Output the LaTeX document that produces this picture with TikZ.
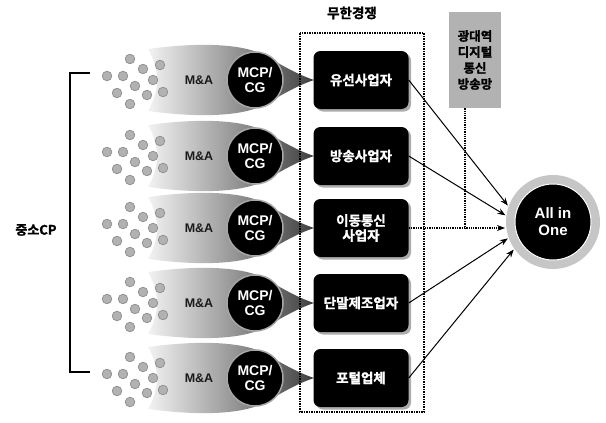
\documentclass[tikz,border=0pt]{standalone}
\usepackage{fontspec}
\setmainfont{Liberation Sans}
\newfontfamily\kr{Noto Sans CJK KR}[BoldFont={Noto Sans CJK KR Bold},BoldFeatures={FakeBold=1.5}]
\usetikzlibrary{arrows.meta,shadows}
\tikzset{
  biz/.style={rectangle, rounded corners=7pt, fill=black, text=white, minimum width=95pt, minimum height=58pt,
    font=\kr\bfseries\fontsize{13.5}{15}\selectfont, align=center, inner sep=1pt,
    drop shadow={shadow xshift=2.5pt, shadow yshift=-2.5pt, fill=gray!65, opacity=1}},
  mcp/.style={circle, fill=black, draw=gray!70, line width=1.5pt, text=white, minimum size=56pt, inner sep=0pt, align=center,
    font=\bfseries\fontsize{14}{15}\selectfont},
  matext/.style={text=black!90, font=\bfseries\fontsize{12.5}{13}\selectfont},
  dotc/.style={fill=gray!60, draw=gray!90, line width=0.7pt},
  conn/.style={line width=1pt, -{Stealth[length=8pt,width=6pt]}},
  lbl/.style={font=\kr\bfseries\fontsize{13.5}{15}\selectfont, text=black},
}
\begin{document}
\begin{tikzpicture}[x=1pt,y=-1pt]
\useasboundingbox (0,0) rectangle (606,423);
% funnels, dots, M&A, MCP circles, boxes
\foreach \y [count=\i] in {80,156,228,303,378}{
  \shade[left color=gray!10, right color=black!75]
    (148,\y-31) .. controls (200,\y-38) and (240,\y-36) .. (262,\y-26)
    .. controls (280,\y-16) and (296,\y-6) .. (314,\y)
    .. controls (296,\y+6) and (280,\y+16) .. (262,\y+26)
    .. controls (240,\y+36) and (200,\y+38) .. (148,\y+31)
    .. controls (160,\y+10) and (160,\y-10) .. (148,\y-31) -- cycle;
  \foreach \dx/\dy in {0/-21,13/-11,30/-15,-23/-4,-7/-4,23/0,5/6,-13/13,17/15,0/24,33/12}{
    \fill[dotc] (130+\dx,\y+\dy) circle (4.8pt);
  }
  \node[matext] (ma\i) at (199,\y) {M\&A};
  \node[mcp] (m\i) at (255,\y) {MCP/\\CG};
}
\node[biz] (b1) at (361,80) {유선사업자};
\node[biz] (b2) at (361,156) {방송사업자};
\node[biz] (b3) at (361,228) {이동통신\\사업자};
\node[biz] (b4) at (361,303) {단말제조업자};
\node[biz] (b5) at (361,378) {포털업체};
% dotted frame and title
\draw[densely dotted, line width=1.5pt] (300,33) rectangle (424,412);
\node[lbl] (title) at (352,13) {무한경쟁};
% grey box
\node[rectangle, fill=gray!60, minimum width=52pt, minimum height=96pt, align=center, text=black,
  font=\kr\bfseries\fontsize{12.5}{16}\selectfont] (gb) at (475,60) {광대역\\디지털\\통신\\방송망};
% All in One
\node[circle, fill=gray!45, minimum size=94pt, inner sep=0pt, outer sep=1pt] (aio) at (553,222) {};
\node[circle, fill=black, draw=white, line width=1pt, minimum size=76pt, text=white, align=center,
  font=\bfseries\fontsize{15}{17}\selectfont] (aioin) at (aio.center) {All in\\One};
% connectors
\draw[conn] (b1.east) -- (aio.160);
\draw[conn] (b2.east) -- (aio.172);
\draw[conn] (b4.east) -- (aio.200);
\draw[conn] (b5.east) -- (aio.215);
\draw[densely dotted, line width=1.3pt, -{Stealth[length=8pt,width=6pt]}] (b3.east) -- (b3.east -| aio.west);
\draw[densely dotted, line width=1.3pt] ([xshift=-10pt]gb.south) -- ([xshift=-10pt]gb.south |- b3.east);
% bracket and label
\coordinate (bt) at (90,73);
\coordinate (bb) at (90,372);
\draw[line width=1.3pt] (bt) -- ++(-20,0) |- (bb);
\node[font=\kr\bfseries\fontsize{13}{15}\selectfont] (cp) at (36,230) {중소CP};
\end{tikzpicture}
\end{document}
